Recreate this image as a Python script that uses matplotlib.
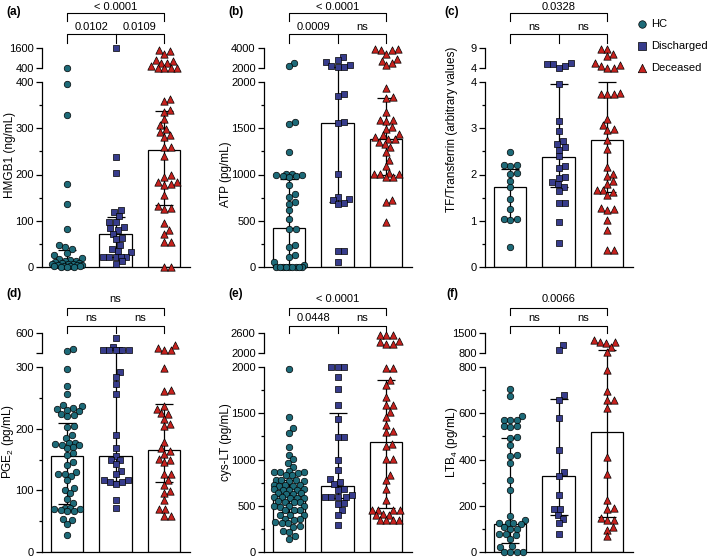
import numpy as np
import matplotlib.pyplot as plt
import matplotlib.transforms as mtransforms

plt.rcParams['font.family'] = ['Liberation Sans', 'DejaVu Sans']
plt.rcParams['mathtext.fontset'] = 'custom'
plt.rcParams['mathtext.rm'] = 'Liberation Sans'

groups = ['HC', 'Discharged', 'Deceased']
colors = ['#1d6a78', '#373c8c', '#c8221e']
markers = ['o', 's', '^']
msizes = [22, 20, 28]

# (a) HMGB1 ng/mL
hmgb1_hc = [420, 396, 328, 179, 137, 82, 48, 43, 39, 30, 25, 20, 17, 15, 13, 12, 10, 9,
            8, 7, 6, 6, 5, 4, 4, 3, 3, 2, 2, 1, 1, 0]
hmgb1_dis = [1600, 237, 203, 123, 119, 110, 98, 98, 86, 84, 80, 72, 62, 60, 48, 40, 35, 32,
             22, 22, 22, 22, 22, 12, 7]
hmgb1_dec = [1480, 1450, 1250, 900, 850, 700, 700, 500, 410, 410, 410, 410, 364, 360, 339,
             335, 321, 306, 299, 292, 285, 281, 259, 259, 241, 198, 195, 184, 183, 180, 178,
             155, 131, 128, 126, 95, 79, 71, 54, 54, 0, 0]
hmgb1_med = [8, 71, 254]
hmgb1_q1 = [2, 22, 133]
hmgb1_q3 = [37, 109, 337]

# (b) ATP pg/mL
atp_hc = [2550, 2180, 1568, 1542, 1243, 1009, 1002, 995, 990, 985, 980, 975, 883, 793, 757,
          703, 685, 613, 523, 414, 407, 234, 216, 126, 108, 54, 18, 0, 0, 0, 0, 0, 0, 0, 0, 0]
atp_dis = [3100, 2800, 2560, 2350, 2200, 2150, 2150, 1867, 1849, 1568, 1557, 1009, 757, 739,
           721, 692, 678, 173, 173, 54]
atp_dec = [3950, 3900, 3850, 3800, 3450, 2900, 2750, 2500, 2300, 1939, 1838, 1831, 1676, 1590,
           1586, 1580, 1514, 1496, 1442, 1424, 1406, 1388, 1388, 1352, 1330, 1297, 1243, 1153,
           1092, 1020, 1009, 1002, 1002, 973, 973, 721, 703, 487]
atp_med = [420, 1560, 1380]
atp_q1 = [0, 700, 1000]
atp_q3 = [950, 2150, 1830]

# (c) TF/Transferrin
tf_hc = [2.49, 2.2, 2.18, 2.2, 2.03, 2.02, 1.87, 1.72, 1.48, 1.26, 1.04, 1.03, 1.02, 0.43]
tf_dis = [5.2, 5.0, 5.0, 4.4, 4.1, 3.95, 3.16, 2.93, 2.72, 2.67, 2.59, 2.54, 2.39, 2.18, 2.15,
          1.95, 1.93, 1.84, 1.79, 1.72, 1.64, 1.39, 1.38, 0.97, 0.52]
tf_dec = [8.7, 8.7, 7.5, 6.9, 5.2, 4.8, 4.6, 4.1, 4.1, 3.76, 3.75, 3.73, 3.73, 3.21, 3.08, 2.99,
          2.97, 2.74, 2.56, 2.16, 2.02, 1.97, 1.87, 1.8, 1.66, 1.66, 1.62, 1.55, 1.28, 1.25,
          1.23, 1.01, 0.81, 0.36, 0.36]
tf_med = [1.73, 2.38, 2.75]
tf_q1 = [1.03, 1.73, 1.63]
tf_q3 = [2.12, 3.95, 4.0]

# (d) PGE2 pg/mL
pge2_hc = [355, 330, 296, 269, 257, 238, 236, 234, 232, 231, 228, 224, 222, 220, 205, 203, 189,
           185, 177, 176, 175, 174, 173, 171, 168, 160, 157, 146, 141, 130, 127, 126, 124, 116,
           103, 100, 95, 86, 80, 72, 71, 70, 69, 68, 67, 66, 54, 52, 46, 27]
pge2_dis = [520, 390, 352, 350, 348, 348, 346, 346, 292, 284, 273, 257, 189, 168, 156, 149, 149,
            142, 132, 127, 117, 117, 114, 114, 110, 84, 72]
pge2_dec = [420, 370, 345, 345, 299, 262, 261, 236, 232, 225, 224, 216, 207, 204, 178, 168, 164,
            159, 151, 149, 146, 127, 126, 116, 108, 99, 95, 84, 70, 69, 59, 59]
pge2_med = [155, 155, 166]
pge2_q1 = [78, 115, 114]
pge2_q3 = [210, 345, 240]

# (e) cys-LT pg/mL
cyslt_hc = [1982, 1463, 1337, 1283, 1139, 1049, 1002, 959, 919, 872, 868, 865, 861, 858, 835,
            830, 782, 779, 776, 772, 768, 728, 725, 721, 718, 714, 681, 678, 675, 671, 667, 638,
            634, 630, 626, 595, 591, 588, 584, 580, 548, 544, 540, 536, 500, 497, 493, 489, 457,
            454, 450, 404, 400, 396, 357, 353, 349, 320, 317, 313, 277, 272, 223, 218, 173, 137]
cyslt_dis = [2000, 2000, 2000, 1892, 1766, 1586, 1442, 1243, 1243, 991, 883, 786, 757, 732, 685,
             674, 613, 600, 595, 595, 590, 530, 515, 451, 396, 288]
cyslt_dec = [2550, 2530, 2350, 2330, 2280, 2280, 2550, 1993, 1993, 1856, 1802, 1676, 1586, 1586,
             1514, 1460, 1370, 1308, 1297, 1171, 1146, 1009, 1009, 829, 775, 685, 559, 458, 451,
             451, 451, 414, 396, 396, 342, 342, 342, 342]
cyslt_med = [605, 714, 1190]
cyslt_q1 = [430, 580, 476]
cyslt_q3 = [780, 1500, 1860]

# (f) LTB4 pg/mL
ltb4_hc = [706, 673, 587, 572, 572, 570, 543, 543, 540, 497, 495, 461, 418, 414, 386, 313, 267,
           154, 140, 125, 125, 124, 122, 108, 101, 100, 79, 78, 72, 58, 26, 22, 0, 0, 0, 0]
ltb4_dis = [1068, 893, 677, 659, 581, 440, 346, 329, 245, 187, 184, 159, 144, 125, 79]
ltb4_dec = [1250, 1185, 1185, 1150, 1010, 835, 788, 696, 659, 659, 624, 411, 339, 223, 190, 187,
            148, 140, 140, 108, 97, 68]
ltb4_med = [120, 330, 517]
ltb4_q1 = [40, 160, 150]
ltb4_q3 = [495, 660, 890]

panels = [
    dict(tag='(a)', ylab='HMGB1 (ng/mL)', data=[hmgb1_hc, hmgb1_dis, hmgb1_dec],
         med=hmgb1_med, q1=hmgb1_q1, q3=hmgb1_q3, brk=400, top=1600,
         major=[0, 100, 200, 300, 400], minor=[50, 150, 250, 350], toplab=['400', '1600'],
         p=['< 0.0001', '0.0102', '0.0109'], x0=42, row=0, labxy=(10, 155), tagxy=(14, 12)),
    dict(tag='(b)', ylab='ATP (pg/mL)', data=[atp_hc, atp_dis, atp_dec],
         med=atp_med, q1=atp_q1, q3=atp_q3, brk=2000, top=4000,
         major=[0, 500, 1000, 1500, 2000], minor=[250, 750, 1250, 1750], toplab=['2000', '4000'],
         p=['< 0.0001', '0.0009', 'ns'], x0=264, row=0, labxy=(226, 174), tagxy=(236, 12)),
    dict(tag='(c)', ylab='TF/Transferrin (arbitrary values)', data=[tf_hc, tf_dis, tf_dec],
         med=tf_med, q1=tf_q1, q3=tf_q3, brk=4, top=9,
         major=[0, 1, 2, 3, 4], minor=[0.5, 1.5, 2.5, 3.5], toplab=['4', '9'],
         p=['0.0328', 'ns', 'ns'], x0=485, row=0, labxy=(452, 129), tagxy=(452, 12)),
    dict(tag='(d)', ylab=r'PGE$_\mathregular{2}$ (pg/mL)', data=[pge2_hc, pge2_dis, pge2_dec],
         med=pge2_med, q1=pge2_q1, q3=pge2_q3, brk=300, top=600,
         major=[0, 100, 200, 300], minor=[50, 150, 250], toplab=['', '600'],
         p=['ns', 'ns', 'ns'], x0=42, row=1, labxy=(8, 442), tagxy=(14, 294)),
    dict(tag='(e)', ylab='cys-LT (pg/mL)', data=[cyslt_hc, cyslt_dis, cyslt_dec],
         med=cyslt_med, q1=cyslt_q1, q3=cyslt_q3, brk=2000, top=2600,
         major=[0, 500, 1000, 1500, 2000], minor=[250, 750, 1250, 1750], toplab=['2000', '2600'],
         p=['< 0.0001', '0.0448', 'ns'], x0=264, row=1, labxy=(226, 442), tagxy=(236, 294)),
    dict(tag='(f)', ylab=r'LTB$_\mathregular{4}$ (pg/mL)', data=[ltb4_hc, ltb4_dis, ltb4_dec],
         med=ltb4_med, q1=ltb4_q1, q3=ltb4_q3, brk=800, top=1500,
         major=[0, 200, 400, 600, 800], minor=[100, 300, 500, 700], toplab=['800', '1500'],
         p=['0.0066', 'ns', 'ns'], x0=485, row=1, labxy=(452, 442), tagxy=(452, 294)),
]

W, H = 709, 558
H1, G, H2 = 185.0, 14.0, 20.0   # px: lower segment, gap, upper segment
XW = 148.0                      # axis width px
UNIT = 48.5                     # px between group centres
LEFT = 25.0 / UNIT
row_bottom = [267, 552]
# bracket y (px): top text, top line, top tick end, low text, low line, low tick end
brk_y = [(7, 13, 21, 27, 34, 43), (299, 308, 315, 318, 326, 333)]


def make_scale(b, top):
    def fwd(v):
        v = np.asarray(v, dtype=float)
        return np.where(v <= b, v / b * H1, H1 + G + (v - b) / (top - b) * H2)

    def inv(u):
        u = np.asarray(u, dtype=float)
        return np.where(u <= H1, u / H1 * b,
                        np.where(u < H1 + G, b, b + (u - H1 - G) / H2 * (top - b)))
    return fwd, inv


def swarm(u, d, maxw=15.0):
    # beeswarm in pixels, limited width; overlaps when crowded
    u = np.asarray(u, dtype=float)
    cand = np.arange(-maxw, maxw + 0.01, 0.5)
    cand = cand[np.argsort(np.abs(cand) + 1e-3 * (cand < 0))]
    offs = np.zeros(len(u))
    px, pu = [], []
    for i in np.argsort(u, kind='stable'):
        if px:
            dist = np.sqrt((cand[:, None] - np.array(px)[None, :]) ** 2 +
                           (u[i] - np.array(pu)[None, :]) ** 2).min(axis=1)
            ok = np.nonzero(dist >= d)[0]
            x = cand[ok[0]] if len(ok) else cand[np.argmax(dist)]
        else:
            x = 0.0
        offs[i] = x
        px.append(x)
        pu.append(u[i])
    return offs


fig = plt.figure(figsize=(W / 100, H / 100), dpi=100)
handles = []

for pn in panels:
    yb = row_bottom[pn['row']]
    ax = fig.add_axes([pn['x0'] / W, (H - yb) / H, XW / W, (H1 + G + H2) / H])
    b, top = pn['brk'], pn['top']
    fwd, inv = make_scale(b, top)
    ax.set_yscale('function', functions=(fwd, inv))
    xs = np.arange(3)

    ax.bar(xs, pn['med'], width=0.68, color='white', edgecolor='black', linewidth=0.9, zorder=1)
    med = np.array(pn['med'], dtype=float)
    yerr = [med - np.array(pn['q1']), np.array(pn['q3']) - med]
    ax.errorbar(xs, med, yerr=yerr, fmt='none', ecolor='black', elinewidth=0.9,
                capsize=6.5, capthick=0.9, zorder=2)

    hs = []
    for g in range(3):
        vals = np.array(pn['data'][g], dtype=float)
        off = swarm(fwd(vals), 6.2) / UNIT
        h = ax.scatter(g + off, vals, s=msizes[g], marker=markers[g], color=colors[g],
                       edgecolors='black', linewidths=0.5, zorder=3, clip_on=False,
                       label=groups[g])
        hs.append(h)
    handles = hs

    ax.set_xlim(-LEFT, XW / UNIT - LEFT)
    ax.set_ylim(0, top)
    ax.set_xticks([])
    for s in ['top', 'right']:
        ax.spines[s].set_visible(False)
    ax.spines['left'].set_bounds(0, b)
    ax.spines['left'].set_linewidth(0.9)
    ax.spines['bottom'].set_linewidth(0.9)
    tr = mtransforms.blended_transform_factory(ax.transAxes, ax.transData)
    ax.plot([0, 0], [b * 1.000001, top], color='black', lw=0.9, transform=tr, clip_on=False)

    ticks = pn['major'] + [b * 1.000001, top]
    labels = [('%g' % t) for t in pn['major']] + pn['toplab']
    ax.set_yticks(ticks, labels)
    ax.set_yticks(pn['minor'], minor=True)
    ax.tick_params(axis='y', which='major', length=4.5, width=0.9, labelsize=8, pad=1.5)
    ax.tick_params(axis='y', which='minor', length=2.5, width=0.9)

    # significance brackets
    ty, ly, le, lty, lly, lle = brk_y[pn['row']]
    bt = mtransforms.blended_transform_factory(ax.transData, fig.transFigure)
    fy = lambda p: 1 - p / H
    ax.plot([0, 0, 2, 2], [fy(le), fy(ly), fy(ly), fy(le)], color='black', lw=0.8,
            transform=bt, clip_on=False)
    ax.plot([0, 0, 2, 2], [fy(lle), fy(lly), fy(lly), fy(lle)], color='black', lw=0.8,
            transform=bt, clip_on=False)
    ax.plot([1, 1], [fy(lle), fy(lly)], color='black', lw=0.8, transform=bt, clip_on=False)
    ax.text(1, fy(ty), pn['p'][0], transform=bt, ha='center', va='center', fontsize=8)
    ax.text(0.5, fy(lty), pn['p'][1], transform=bt, ha='center', va='center', fontsize=8)
    ax.text(1.5, fy(lty), pn['p'][2], transform=bt, ha='center', va='center', fontsize=8)

    lx, lyc = pn['labxy']
    fig.text(lx / W, 1 - lyc / H, pn['ylab'], rotation=90, ha='center', va='center',
             fontsize=8.5)
    tx, tyy = pn['tagxy']
    fig.text(tx / W, 1 - tyy / H, pn['tag'], ha='center', va='center', fontsize=8.5,
             fontweight='bold')

fig.legend(handles=handles, loc='upper left', bbox_to_anchor=(637.5 / W, 1 - 19 / H),
           frameon=False, fontsize=8, markerscale=1.15, handletextpad=0.4,
           labelspacing=1.08, borderaxespad=0, borderpad=0, handlelength=0.8)

fig.savefig('out.png', dpi=100)
